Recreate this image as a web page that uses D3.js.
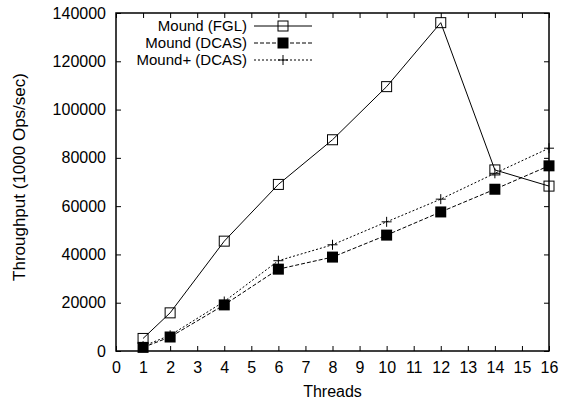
<!DOCTYPE html>
<html>
<head>
<meta charset="utf-8">
<script src="https://cdn.jsdelivr.net/npm/d3@7"></script>
<style>
  body { margin: 0; background: #fff; }
  svg { font-family: "Liberation Sans", Arial, sans-serif; }
</style>
</head>
<body>
<svg width="566" height="404"></svg>
<script>
var threads = [1, 2, 4, 6, 8, 10, 12, 14, 16]
var moundFGL = [5200, 15800, 45500, 69000, 87500, 109500, 136000, 75000, 68300]
var moundDCAS = [1500, 5800, 19100, 33900, 38900, 48000, 57600, 67000, 76700]
var moundPlus = [2000, 6500, 20500, 37400, 44000, 53500, 62900, 73600, 84000]
var xTicks = d3.range(0, 17)
var yTicks = [0, 20000, 40000, 60000, 80000, 100000, 120000, 140000]

var series = [
    {name: "Mound (FGL)", values: moundFGL, dash: null, marker: "open"},
    {name: "Mound (DCAS)", values: moundDCAS, dash: "4,2", marker: "filled"},
    {name: "Mound+ (DCAS)", values: moundPlus, dash: "2,2", marker: "plus"}
]

var svg = d3.select("svg")
var plotLeft = 116, plotRight = 549, plotTop = 13, plotBottom = 351

var xScale = d3.scaleLinear().domain([0, 16]).range([plotLeft, plotRight])
var yScale = d3.scaleLinear().domain([0, 140000]).range([plotBottom, plotTop])

var g = svg.append("g").attr("id", "chart")

// axes with inward ticks, mirrored on top/right
g.append("g").attr("transform", "translate(0," + plotBottom + ")")
    .call(d3.axisBottom(xScale).tickValues(xTicks).tickSizeInner(-5).tickSizeOuter(0).tickPadding(11))
g.append("g").attr("transform", "translate(0," + plotTop + ")")
    .call(d3.axisTop(xScale).tickValues(xTicks).tickSizeInner(-5).tickSizeOuter(0).tickFormat(""))
g.append("g").attr("transform", "translate(" + plotLeft + ",0)")
    .call(d3.axisLeft(yScale).tickValues(yTicks).tickSizeInner(-5).tickSizeOuter(0).tickPadding(10).tickFormat(d3.format("d")))
g.append("g").attr("transform", "translate(" + plotRight + ",0)")
    .call(d3.axisRight(yScale).tickValues(yTicks).tickSizeInner(-5).tickSizeOuter(0).tickFormat(""))

g.selectAll(".domain").remove()
g.selectAll(".tick line").attr("stroke", "#000")
g.selectAll(".tick text").attr("font-size", 16).attr("fill", "#000")
    .attr("font-family", "'Liberation Sans', Arial, sans-serif")

g.append("rect")
    .attr("x", plotLeft).attr("y", plotTop)
    .attr("width", plotRight - plotLeft).attr("height", plotBottom - plotTop)
    .attr("fill", "none").attr("stroke", "#000").attr("stroke-width", 1.5)

var line = d3.line()
    .x((d, i) => xScale(threads[i]))
    .y(d => yScale(d))

function drawMarker(sel, type, x, y) {
    if (type === "open") {
        sel.append("rect").attr("x", x - 5).attr("y", y - 5).attr("width", 10).attr("height", 10)
            .attr("fill", "none").attr("stroke", "#000").attr("stroke-width", 1)
    } else if (type === "filled") {
        sel.append("rect").attr("x", x - 5.5).attr("y", y - 5.5).attr("width", 11).attr("height", 11)
            .attr("fill", "#000")
    } else {
        sel.append("path").attr("d", "M" + (x - 5) + "," + y + "H" + (x + 5) + "M" + x + "," + (y - 5) + "V" + (y + 5))
            .attr("stroke", "#000").attr("stroke-width", 1)
    }
}

series.forEach(s => {
    g.append("path")
        .attr("d", line(s.values))
        .attr("fill", "none")
        .attr("stroke", "#000")
        .attr("stroke-width", 1)
        .attr("stroke-dasharray", s.dash)
    var m = g.append("g")
    s.values.forEach((v, i) => drawMarker(m, s.marker, xScale(threads[i]), yScale(v)))
})

// legend
var legend = g.append("g")
series.forEach((s, i) => {
    var y = 26 + i * 17
    legend.append("text")
        .attr("x", 247).attr("y", y).attr("dy", "0.35em")
        .attr("text-anchor", "end").attr("font-size", 15)
        .text(s.name)
    legend.append("line")
        .attr("x1", 254).attr("x2", 312).attr("y1", y).attr("y2", y)
        .attr("stroke", "#000").attr("stroke-width", 1)
        .attr("stroke-dasharray", s.dash)
    drawMarker(legend, s.marker, 283, y)
})

svg.append("text")
    .attr("x", xScale(8)).attr("y", 397)
    .attr("text-anchor", "middle").attr("font-size", 16)
    .text("Threads")

svg.append("text")
    .attr("transform", "translate(25,177) rotate(-90)")
    .attr("text-anchor", "middle").attr("font-size", 17)
    .text("Throughput (1000 Ops/sec)")
</script>
</body>
</html>
